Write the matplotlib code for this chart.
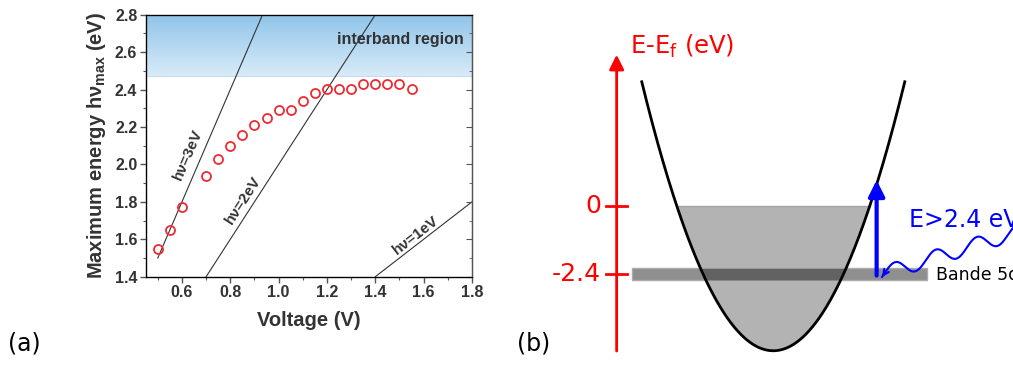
import numpy as np
import matplotlib.pyplot as plt
from matplotlib.colors import LinearSegmentedColormap
from matplotlib.patches import Rectangle
from matplotlib.ticker import MultipleLocator

# (a) energie max en fonction de la tension
tension = [0.50, 0.55, 0.60, 0.70, 0.75, 0.80, 0.85, 0.90, 0.95, 1.00, 1.05,
           1.10, 1.15, 1.20, 1.25, 1.30, 1.35, 1.40, 1.45, 1.50, 1.55]
energie_max = [1.55, 1.65, 1.77, 1.94, 2.03, 2.10, 2.155, 2.21, 2.25, 2.29, 2.29,
               2.34, 2.38, 2.405, 2.405, 2.405, 2.43, 2.43, 2.43, 2.43, 2.405]
hnu = [3, 2, 1]
hnu_textes = ["hν=3eV", "hν=2eV", "hν=1eV"]
hnu_pos = [(0.625, 2.05), (0.853, 1.81), (1.569, 1.622)]
seuil_interbande = 2.47
xlim_a = (0.45, 1.8)
ylim_a = (1.4, 2.8)

# (b) schema de bande
niveaux = [0, -2.4]
niveaux_textes = ["0", "-2.4"]
fond_bande = -5.09
haut_bande = 4.35
bande_5d = -2.4
demi_epaisseur_5d = 0.205
k_5d = (-1.077, 1.171)
k_photon = 0.786
e_photon_haut = 0.9

gris = '#333333'
plt.rcParams['font.family'] = ['Liberation Sans', 'DejaVu Sans']

fig = plt.figure(figsize=(10.13, 3.65), dpi=100)

# ---------- panneau (a)
ax = fig.add_axes([145.7 / 1013, 88.3 / 365, 326.3 / 1013, 262 / 365])
ax.set_xlim(*xlim_a)
ax.set_ylim(*ylim_a)

cmap = LinearSegmentedColormap.from_list('bleu', ['#d8ebf8', '#8fc4ea'])
ax.imshow(np.linspace(0, 1, 200).reshape(-1, 1), extent=[xlim_a[0], xlim_a[1], seuil_interbande, ylim_a[1]],
          aspect='auto', origin='lower', cmap=cmap, zorder=0)
ax.axhline(seuil_interbande, color='#c4dcee', lw=0.8, zorder=0.5)
ax.text(1.765, 2.665, "interband region", ha='right', va='center', fontsize=11.5,
        fontweight='bold', color=gris)

for n, txt, pos in zip(hnu, hnu_textes, hnu_pos):
    v0 = max(0.5, ylim_a[0] / n)
    v1 = min(xlim_a[1], ylim_a[1] / n)
    ax.plot([v0, v1], [n * v0, n * v1], color=gris, lw=0.8, zorder=1)
    ang = ax.transData.transform_angles(np.array([np.degrees(np.arctan(n))]),
                                        np.array([pos]))[0]
    ax.text(pos[0], pos[1], txt, rotation=ang, rotation_mode='anchor', ha='center', va='center',
            fontsize=11, fontweight='bold', color=gris)

ax.plot(tension, energie_max, 'o', ms=6.5, mfc='none', mec='#ee2a33', mew=1.3, zorder=3)

ax.xaxis.set_minor_locator(MultipleLocator(0.1))
ax.yaxis.set_major_locator(MultipleLocator(0.2))
ax.yaxis.set_minor_locator(MultipleLocator(0.1))
ax.set_xticks([0.6, 0.8, 1.0, 1.2, 1.4, 1.6, 1.8])
ax.set_xticklabels(["0.6", "0.8", "1.0", "1.2", "1.4", "1.6", "1.8"])
ax.tick_params(which='major', direction='out', length=4, width=1, color='#555555',
               labelsize=11.5, labelcolor=gris, pad=2)
ax.tick_params(which='minor', direction='out', length=2.5, width=0.8, color='#555555')
for lab in ax.get_xticklabels() + ax.get_yticklabels():
    lab.set_fontweight('bold')
for s in ax.spines.values():
    s.set_color('#555555')
    s.set_linewidth(1)

ax_d = ax.twinx()
ax_d.set_ylim(*ylim_a)
ax_d.yaxis.set_major_locator(MultipleLocator(0.2))
ax_d.yaxis.set_minor_locator(MultipleLocator(0.1))
ax_d.tick_params(which='both', direction='in', labelright=False, color='#555555')
ax_d.tick_params(which='major', length=4)
ax_d.tick_params(which='minor', length=2.5)
ax_d.spines['right'].set_color('#555555')

ax.set_xlabel("Voltage (V)", fontsize=14.5, fontweight='bold', color=gris, labelpad=8)
ax.set_ylabel("Maximum energy hν$_\\mathregular{max}$ (eV)", fontsize=14.5, fontweight='bold',
              color=gris, labelpad=5)

fig.text(8 / 1013, 1 - 344 / 365, "(a)", family='DejaVu Sans', fontsize=17, va='center')

# ---------- panneau (b)
axb = fig.add_axes([500 / 1013, 0, 513 / 1013, 1])
axb.set_xlim(-2.078, 1.823)
axb.set_ylim(-5.59, 7.22)
axb.axis('off')

a = haut_bande - fond_bande
k = np.linspace(-1, 1, 400)
axb.plot(k, fond_bande + a * k ** 2, color='black', lw=2, zorder=4)

kf = np.sqrt(-fond_bande / a)
kk = np.linspace(-kf, kf, 300)
axb.fill_between(kk, fond_bande + a * kk ** 2, 0, color='#b3b3b3', lw=0, zorder=1)
axb.plot([-kf, kf], [0, 0], color='#a4a4a4', lw=1, zorder=1)

bas, haut = bande_5d - demi_epaisseur_5d, bande_5d + demi_epaisseur_5d
axb.add_patch(Rectangle((k_5d[0], bas), k_5d[1] - k_5d[0], haut - bas,
                        facecolor='#8f8f8f', edgecolor='#ababab', lw=1, zorder=2))
kh = np.sqrt((haut - fond_bande) / a)
kb = np.linspace(-kh, kh, 300)
axb.fill_between(kb, np.maximum(fond_bande + a * kb ** 2, bas), haut, color='#626262', lw=0, zorder=3)
axb.text(1.237, bande_5d - 0.03, "Bande 5d", family='DejaVu Sans', fontsize=12.5, va='center', ha='left')

# axe energie en rouge
kx = -1.191
axb.annotate('', xy=(kx, 5.3), xytext=(kx, -5.1),
             arrowprops=dict(arrowstyle='-|>', color='red', lw=2, mutation_scale=22, shrinkA=0, shrinkB=0))
for niv, txt in zip(niveaux, niveaux_textes):
    axb.plot([kx - 0.08, kx + 0.075], [niv, niv], color='red', lw=2)
    axb.text(-1.31, niv, txt, color='red', fontsize=18, family='DejaVu Sans', ha='right', va='center')
axb.text(-1.09, 5.6, "E-E$_\\mathregular{f}$ (eV)", color='red', fontsize=17.5, family='DejaVu Sans',
         ha='left', va='center')

# transition
axb.annotate('', xy=(k_photon, e_photon_haut), xytext=(k_photon, bande_5d - 0.05),
             arrowprops=dict(arrowstyle='-|>', color='blue', lw=3, mutation_scale=24, shrinkA=0, shrinkB=0),
             zorder=5)
axb.text(1.032, -0.5, "E>2.4 eV", color='blue', fontsize=17, family='DejaVu Sans', ha='left', va='center')

kw = np.linspace(0.827, 1.83, 400)
ew = -3.572 + 1.4257 * kw + 0.27 * np.cos(2 * np.pi * (kw - 0.925) / 0.312)
axb.plot(kw, ew, color='blue', lw=1.5, zorder=5)
axb.annotate('', xy=(kw[0], ew[0]), xytext=(kw[6], ew[6]),
             arrowprops=dict(arrowstyle='->', color='blue', lw=1.5, mutation_scale=10, shrinkA=0, shrinkB=0),
             zorder=5)

axb.text(-1.952, -4.82, "(b)", family='DejaVu Sans', fontsize=17, va='center', ha='left')

fig.savefig('out.png', dpi=100)
